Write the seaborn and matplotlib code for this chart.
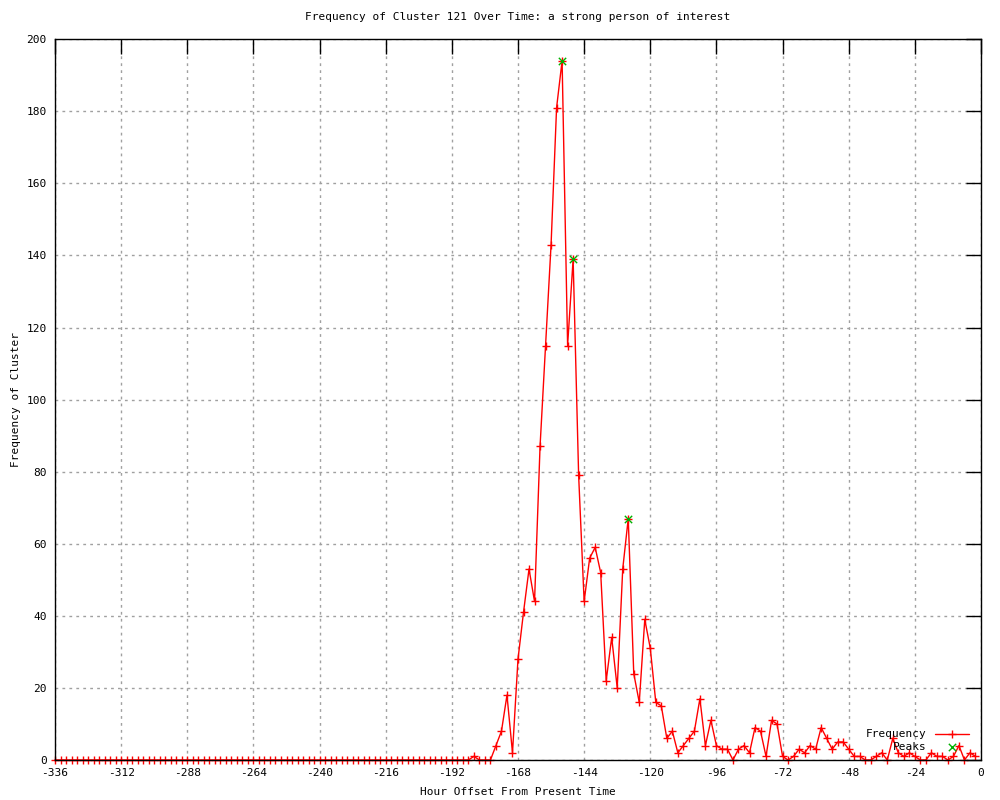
import numpy as np
import pandas as pd
import matplotlib
matplotlib.use('Agg')
import matplotlib.pyplot as plt
import matplotlib.ticker as mticker
import seaborn as sns

# hourly offsets, sampled every 2 hours
hours = list(range(-336, 0, 2))

# frequency values (zeros until -186)
freq = [0] * 76 + [
    1, 0, 0, 0, 4, 8, 18, 2, 28, 41,          # -184 .. -166
    53, 44, 87, 115, 143, 181, 194, 115, 139, 79,   # -164 .. -146
    44, 56, 59, 52, 22, 34, 20, 53, 67, 24,     # -144 .. -126
    16, 39, 31, 16, 15, 6, 8, 2, 4, 6,          # -124 .. -106
    8, 17, 4, 11, 4, 3, 3, 0, 3, 4,             # -104 .. -86
    2, 9, 8, 1, 11, 10, 1, 0, 1, 3,             # -84 .. -66
    2, 4, 3, 9, 6, 3, 5, 5, 3, 1,               # -64 .. -46
    1, 0, 0, 1, 2, 0, 6, 2, 1, 2,               # -44 .. -26
    1, 0, 0, 2, 1, 1, 0, 1, 4, 0,               # -24 .. -6
    2, 1,                                       # -4 .. -2
]

peak_hours = [-152, -148, -128]
peak_vals = [194, 139, 67]

sns.set_theme(style='white')
plt.rcParams.update({
    'font.family': ['DejaVu Sans Mono', 'DejaVu Sans'],
    'font.size': 8,
    'axes.unicode_minus': False,
    'axes.edgecolor': 'black',
    'axes.linewidth': 1.0,
    'xtick.direction': 'in',
    'ytick.direction': 'in',
    'xtick.top': True,
    'ytick.right': True,
    'xtick.major.size': 11,
    'ytick.major.size': 11,
    'xtick.major.width': 1.0,
    'ytick.major.width': 1.0,
    'xtick.color': 'black',
    'ytick.color': 'black',
    'text.color': 'black',
    'axes.labelcolor': 'black',
})

df = pd.DataFrame({'Hour': hours, 'Frequency': freq})
peaks = pd.DataFrame({'Hour': peak_hours, 'Frequency': peak_vals})

fig = plt.figure(figsize=(10, 8), dpi=100)
ax = fig.add_axes([0.055, 0.05, 0.926, 0.901])

sns.lineplot(data=df, x='Hour', y='Frequency', ax=ax, color='red', linewidth=1.0,
             marker='+', markersize=6, markeredgewidth=1.0, markeredgecolor='red',
             label='Frequency', clip_on=False)
sns.scatterplot(data=peaks, x='Hour', y='Frequency', ax=ax, color='#00b000',
                marker='x', s=28, linewidth=1.0, label='Peaks', zorder=5)

ax.set_xlim(-336, 0)
ax.set_ylim(0, 200)
ax.xaxis.set_major_locator(mticker.MultipleLocator(24))
ax.yaxis.set_major_locator(mticker.MultipleLocator(20))
ax.grid(True, color='#a0a0a0', linestyle=(0, (2, 3)), linewidth=1.0)
ax.set_axisbelow(True)
ax.tick_params(axis='both', labelsize=8, pad=6)
for sp in ax.spines.values():
    sp.set_zorder(3)

ax.set_title('Frequency of Cluster 121 Over Time: a strong person of interest',
             fontsize=8, pad=14)
ax.set_xlabel('Hour Offset From Present Time', fontsize=8, labelpad=6)
ax.set_ylabel('Frequency of Cluster', fontsize=8, labelpad=4)

ax.legend(loc='lower right', bbox_to_anchor=(0.995, 0.0), frameon=False,
          markerfirst=False, fontsize=8, handlelength=3.0, labelspacing=0.25,
          borderaxespad=0.3)

fig.savefig('out.png', dpi=100)
plt.close(fig)
